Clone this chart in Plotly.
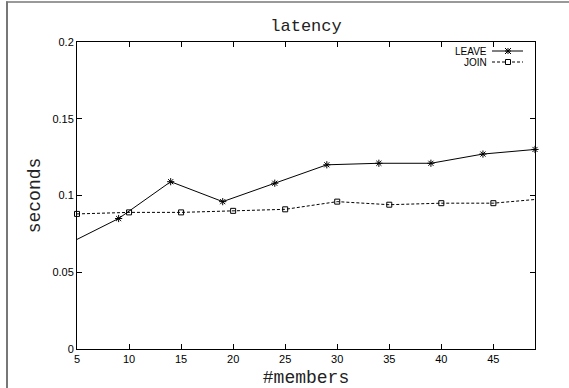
import plotly.graph_objects as go

# ---- data ----
members_leave = [4, 9, 14, 19, 24, 29, 34, 39, 44, 49]
leave_seconds = [0.068, 0.085, 0.109, 0.096, 0.108, 0.120, 0.121, 0.121, 0.127, 0.130]

members_join = [5, 10, 15, 20, 25, 30, 35, 40, 45, 50]
join_seconds = [0.088, 0.089, 0.089, 0.090, 0.091, 0.096, 0.094, 0.095, 0.095, 0.098]

x_ticks = [5, 10, 15, 20, 25, 30, 35, 40, 45]
y_ticks = [0, 0.05, 0.1, 0.15, 0.2]
y_tick_labels = ["0", "0.05", "0.1", "0.15", "0.2"]

# ---- page geometry ----
W, H = 569, 388
L, R, T, B = 77, 535, 42, 349   # plot area in pixels


def px(x):
    return (x - L) / (R - L)


def py(y):
    return (B - y) / (B - T)


fig = go.Figure()
fig.add_trace(go.Scatter(
    x=members_leave, y=leave_seconds, name="LEAVE", mode="lines+markers",
    line=dict(color="black", width=1),
    marker=dict(symbol="asterisk-open", size=6, color="black",
                line=dict(color="black", width=1)),
    cliponaxis=False, showlegend=False,
))
fig.add_trace(go.Scatter(
    x=members_join, y=join_seconds, name="JOIN", mode="lines+markers",
    line=dict(color="black", width=1, dash="3px,2px"),
    marker=dict(symbol="square-open", size=5, color="black",
                line=dict(color="black", width=1)),
    cliponaxis=False, showlegend=False,
))

axis_common = dict(
    showline=True, linecolor="black", linewidth=1, mirror="ticks",
    ticks="inside", ticklen=5, tickcolor="black", tickwidth=1,
    showgrid=False, zeroline=False, automargin=False,
    tickfont=dict(family="Liberation Sans, Arial, sans-serif", size=11, color="black"),
)

mono = "Liberation Mono, Courier New, monospace"

fig.update_xaxes(
    range=[5, 49], tickvals=x_ticks,
    title=dict(text="#members", standoff=7,
               font=dict(family=mono, size=18, color="#222222")),
    **axis_common,
)
fig.update_yaxes(
    range=[0, 0.2], tickvals=y_ticks, ticktext=y_tick_labels,
    title=dict(text="seconds", standoff=7,
               font=dict(family=mono, size=18, color="#222222")),
    **axis_common,
)

# legend (gnuplot style: text right-justified, sample to the right)
leg_font = dict(family="Liberation Sans, Arial, sans-serif", size=10, color="black")
annotations = [
    dict(text="LEAVE", x=px(489), y=py(51), xref="paper", yref="paper",
         xanchor="right", yanchor="middle", showarrow=False, font=leg_font),
    dict(text="JOIN", x=px(489), y=py(62), xref="paper", yref="paper",
         xanchor="right", yanchor="middle", showarrow=False, font=leg_font),
]

shapes = []
# LEAVE sample: solid line with asterisk
shapes.append(dict(type="line", xref="paper", yref="paper",
                   x0=px(492), x1=px(523), y0=py(51), y1=py(51),
                   line=dict(color="black", width=1)))
cx, cy, r = 508, 51, 3
for dx, dy in [(r, 0), (0, r), (r, r), (r, -r)]:
    shapes.append(dict(type="line", xref="paper", yref="paper",
                       x0=px(cx - dx), x1=px(cx + dx), y0=py(cy - dy), y1=py(cy + dy),
                       line=dict(color="black", width=1)))
# JOIN sample: dashed line with open square
shapes.append(dict(type="line", xref="paper", yref="paper",
                   x0=px(492), x1=px(523), y0=py(62), y1=py(62),
                   line=dict(color="black", width=1, dash="3px,2px")))
shapes.append(dict(type="rect", xref="paper", yref="paper",
                   x0=px(505.5), x1=px(510.5), y0=py(64.5), y1=py(59.5),
                   line=dict(color="black", width=1), fillcolor="white"))
# outer frame lines of the picture (left and top, gray)
shapes.append(dict(type="line", xref="paper", yref="paper",
                   x0=px(7), x1=px(7), y0=py(1.5), y1=py(H),
                   line=dict(color="#777777", width=2)))
shapes.append(dict(type="line", xref="paper", yref="paper",
                   x0=px(6), x1=px(W), y0=py(2), y1=py(2),
                   line=dict(color="#777777", width=1.5)))

fig.update_layout(
    width=W, height=H,
    margin=dict(l=L, r=W - R, t=T, b=H - B),
    paper_bgcolor="white", plot_bgcolor="white",
    title=dict(text="latency", x=0.5, xref="paper", xanchor="center",
               y=1 - 25 / H, yref="container", yanchor="middle",
               font=dict(family=mono, size=17, color="#222222")),
    annotations=annotations,
    shapes=shapes,
    showlegend=False,
)

fig.write_html(
    "out.html",
    config={"displayModeBar": False, "staticPlot": True},
    post_script="document.body.style.margin='0';document.body.style.overflow='hidden';",
)
